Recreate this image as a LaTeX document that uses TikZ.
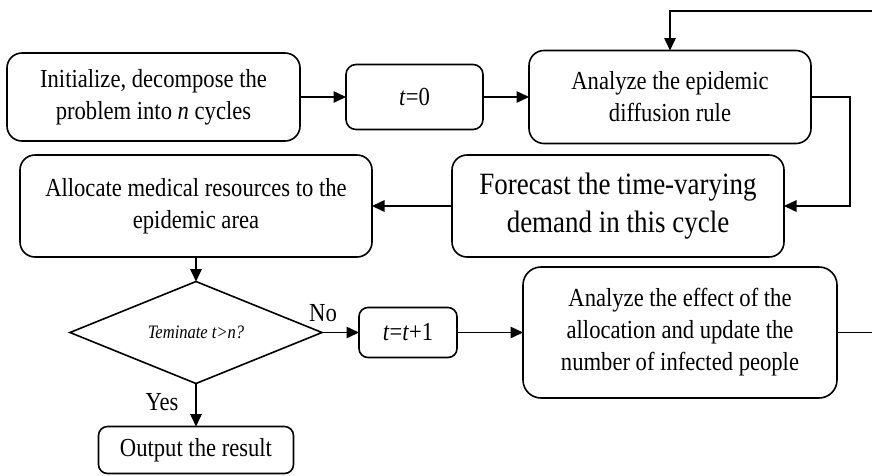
\documentclass[tikz,border=0pt]{standalone}
\usepackage{fontspec}
\setmainfont{Liberation Serif}[FakeStretch=0.87]
\usetikzlibrary{arrows.meta,shapes.geometric}

\begin{document}
\begin{tikzpicture}[x=1pt,y=-1pt,
  every node/.style={inner sep=0pt,outer sep=0pt},
  box/.style={draw,line width=1.6pt,rounded corners=#1,align=center,
              font=\fontsize{26}{32}\selectfont},
  box/.default=15pt,
  decision/.style={draw,line width=1.6pt,diamond,aspect=2.47,
              font=\fontsize{19}{22}\selectfont\itshape},
  arr/.style={line width=1.5pt,-{Triangle[length=12.5pt,width=11.5pt]}},
  tag/.style={font=\fontsize{26}{32}\selectfont}]

\useasboundingbox (0,0) rectangle (872,475);

% first row
\node[box,minimum width=293pt,minimum height=88pt] (init) at (153.5,97)
  {Initialize, decompose the\\problem into \textit{n} cycles};
\node[box=10pt,minimum width=137pt,minimum height=65pt] (t0) at (414.5,97)
  {\textit{t}=0};
\node[box,minimum width=282pt,minimum height=93pt] (rule) at (670,97)
  {Analyze the epidemic\\diffusion rule};

% second row
\node[box,minimum width=352pt,minimum height=102pt] (alloc) at (196,206)
  {Allocate medical resources to the\\epidemic area};
\node[box,minimum width=332pt,minimum height=102pt,
      font=\fontsize{31}{38}\selectfont] (forecast) at (618,206)
  {Forecast the time-varying\\demand in this cycle};

% decision and update loop
\node[decision,minimum width=252pt,minimum height=102pt] (dec) at (196,332.5)
  {Teminate t>n?};
\node[box=9pt,minimum width=98pt,minimum height=50pt] (tinc) at (408,332.5)
  {\textit{t}=\textit{t}+1};
\node[box=18pt,minimum width=314pt,minimum height=131pt] (effect) at (680,332.5)
  {Analyze the effect of the\\allocation and update the\\number of infected people};
\node[box=9pt,minimum width=195pt,minimum height=47pt] (out) at (196,450)
  {Output the result};

% labels
\node[tag] (no) at (323,313) {No};
\node[tag] (yes) at (162,402) {Yes};

% corner of the feedback loop
\coordinate (loopR) at (874,11);

% connectors
\draw[arr] (init.east) -- (t0.west);
\draw[arr] (t0.east) -- (rule.west);
\draw[arr] (rule.east) -- ++(39,0) |- (forecast.east);
\draw[arr] (forecast.west) -- (alloc.east);
\draw[arr] (alloc.south) -- (dec.north);
\draw[arr] (dec.east) -- (tinc.west);
\draw[arr] (tinc.east) -- (effect.west);
\draw[arr] (dec.south) -- (out.north);
\draw[arr] (effect.east) -| (loopR) -| (rule.north);

\end{tikzpicture}
\end{document}
